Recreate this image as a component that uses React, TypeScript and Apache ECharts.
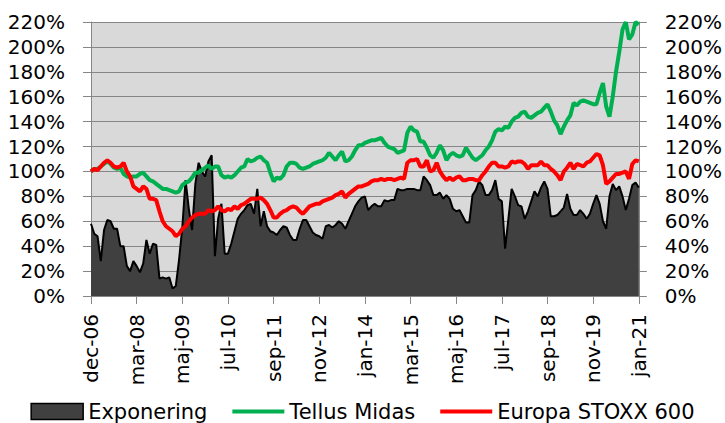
import React, { useEffect, useRef } from "react";
import * as echarts from "echarts";

const MONTHS = ["jan", "feb", "mar", "apr", "maj", "jun", "jul", "aug", "sep", "okt", "nov", "dec"];

// Monthly observations from dec-06 to jan-21 (jan-07 missing in the source series)
const buildCategories = (): string[] => {
  const out: string[] = ["dec-06"];
  let y = 2007;
  let m = 1; // feb-07
  while (true) {
    const label = MONTHS[m] + "-" + String(y % 100).padStart(2, "0");
    out.push(label);
    if (label === "jan-21") break;
    m++;
    if (m > 11) { m = 0; y++; }
  }
  return out;
};
const categories = buildCategories();

const exponering = [
  58, 50, 48, 28, 53, 61, 60, 54, 54, 40, 40, 24, 20, 28, 24, 19, 26, 45, 34, 42,
  41, 14, 15, 14, 15, 6, 8, 29, 55, 93, 70, 53, 90, 107, 100, 96, 108, 113, 32, 62,
  74, 34, 34, 42, 52, 62, 66, 69, 73, 74, 66, 86, 56, 68, 56, 52, 51, 49, 53, 56,
  55, 49, 45, 45, 54, 61, 61, 56, 51, 49, 48, 46, 56, 57, 55, 57, 60, 58, 54, 60,
  66, 72, 76, 79, 80, 69, 72, 74, 72, 72, 77, 76, 77, 77, 86, 85, 85, 86, 86, 86,
  85, 85, 96, 93, 89, 81, 81, 83, 78, 81, 78, 70, 68, 69, 64, 59, 59, 81, 85, 92,
  89, 81, 81, 85, 93, 78, 76, 38, 62, 86, 80, 73, 72, 62, 68, 76, 84, 80, 87, 92,
  86, 64, 64, 65, 68, 71, 82, 70, 65, 65, 69, 66, 62, 66, 74, 81, 74, 60, 54, 80,
  90, 85, 88, 80, 69, 78, 89, 91, 87,
];

const tellusMidas = [
  100, 102, 102, 104, 106, 108, 106, 103, 102, 103, 98, 96, 95, 96, 96, 98, 99, 96, 93, 92,
  90, 88, 86, 86, 85, 84, 83, 84, 89, 91, 92, 95, 99, 99, 101, 103, 105, 102, 104, 104,
  97, 95, 96, 95, 97, 100, 103, 104, 110, 108, 109, 111, 112, 109, 107, 99, 92, 95, 94, 97,
  104, 107, 107, 106, 103, 102, 103, 104, 106, 107, 108, 109, 111, 115, 112, 109, 113, 116, 108, 109,
  112, 117, 121, 121, 123, 124, 125, 125, 126, 127, 123, 120, 119, 118, 115, 116, 117, 131, 136, 133,
  132, 124, 124, 119, 113, 111, 115, 121, 117, 109, 113, 115, 113, 112, 113, 119, 115, 111, 109, 111,
  113, 117, 120, 125, 132, 134, 133, 136, 135, 140, 143, 144, 147, 148, 144, 143, 145, 147, 148, 151,
  154, 148, 141, 137, 130, 136, 141, 145, 155, 153, 156, 157, 156, 155, 154, 154, 163, 171, 152, 144,
  160, 180, 196, 214, 220, 206, 210, 220, 218,
];

const europaStoxx600 = [
  100, 102, 101, 104, 107, 109, 107, 104, 103, 104, 107, 100, 96, 88, 86, 84, 88, 86, 78, 78,
  77, 68, 60, 56, 54, 52, 48, 50, 54, 56, 60, 63, 65, 66, 66, 66, 69, 68, 69, 72,
  69, 68, 70, 69, 72, 70, 73, 74, 76, 78, 78, 78, 79, 77, 74, 69, 63, 63, 66, 68,
  69, 71, 72, 71, 68, 66, 69, 72, 73, 74, 74, 76, 77, 78, 79, 81, 82, 84, 79, 82,
  84, 86, 88, 88, 89, 90, 92, 93, 93, 94, 93, 94, 94, 93, 94, 95, 94, 107, 109, 109,
  110, 104, 104, 109, 100, 101, 107, 100, 96, 93, 95, 93, 95, 96, 93, 93, 94, 94, 93, 93,
  97, 100, 104, 107, 107, 104, 104, 103, 104, 108, 107, 108, 108, 106, 102, 105, 105, 105, 108, 105,
  105, 102, 100, 97, 93, 100, 103, 107, 102, 106, 105, 104, 107, 108, 111, 114, 113, 105, 90, 92,
  95, 98, 98, 99, 100, 94, 106, 109, 108,
];

const FONT = "DejaVu Sans";
const AXIS_GREY = "#868686";

export default function App() {
  const ref = useRef<HTMLDivElement>(null);

  useEffect(() => {
    document.body.style.margin = "0";
    if (!ref.current) return;
    const chart = echarts.init(ref.current, null, { renderer: "svg" });
    const yAxisBase = {
      type: "value",
      min: 0,
      max: 220,
      interval: 20,
      axisLine: { show: true, lineStyle: { color: AXIS_GREY, width: 1 } },
      axisTick: { show: true, length: 8, lineStyle: { color: AXIS_GREY, width: 1 } },
      axisLabel: {
        formatter: "{value}%",
        fontFamily: FONT,
        fontSize: 20,
        color: "#000",
        margin: 26,
      },
    };
    chart.setOption({
      animation: false,
      backgroundColor: "#ffffff",
      grid: {
        left: 91,
        right: 85,
        top: 22,
        bottom: 127,
        show: true,
        backgroundColor: "#d9d9d9",
        borderWidth: 0,
      },
      legend: {
        bottom: 1,
        left: "center",
        itemWidth: 52,
        itemHeight: 16,
        itemGap: 25,
        padding: 0,
        symbolKeepAspect: true,
        textStyle: { fontFamily: FONT, fontSize: 21, color: "#000" },
        data: [
          {
            name: "Exponering",
            icon: "rect",
            itemStyle: { color: "#404040", borderColor: "#000", borderWidth: 1.5 },
          },
          { name: "Tellus Midas", icon: "path://M0,0H52V4H0Z", itemStyle: { color: "#00b050" } },
          { name: "Europa STOXX 600", icon: "path://M0,0H52V4H0Z", itemStyle: { color: "#ff0000" } },
        ],
      },
      xAxis: {
        type: "category",
        data: categories,
        boundaryGap: false,
        axisLine: { show: true, lineStyle: { color: AXIS_GREY, width: 1 } },
        axisTick: { show: true, interval: 13, length: 8, lineStyle: { color: AXIS_GREY, width: 1 } },
        axisLabel: {
          interval: 13,
          rotate: 90,
          fontFamily: FONT,
          fontSize: 20,
          color: "#000",
          margin: 18,
        },
        splitLine: { show: false },
      },
      yAxis: [
        {
          ...yAxisBase,
          position: "left",
          splitLine: { show: true, lineStyle: { color: AXIS_GREY, width: 1 } },
        },
        {
          ...yAxisBase,
          position: "right",
          splitLine: { show: false },
        },
      ],
      series: [
        {
          name: "Exponering",
          type: "line",
          data: exponering,
          symbol: "none",
          itemStyle: { color: "#404040" },
          lineStyle: { color: "#000", width: 2 },
          areaStyle: { color: "#404040", opacity: 1 },
          z: 1,
        },
        {
          name: "Tellus Midas",
          type: "line",
          data: tellusMidas,
          symbol: "none",
          itemStyle: { color: "#00b050" },
          lineStyle: { color: "#00b050", width: 4 },
          z: 2,
        },
        {
          name: "Europa STOXX 600",
          type: "line",
          data: europaStoxx600,
          symbol: "none",
          itemStyle: { color: "#ff0000" },
          lineStyle: { color: "#ff0000", width: 4 },
          z: 3,
        },
      ],
    });
    return () => chart.dispose();
  }, []);

  return <div ref={ref} style={{ width: 725, height: 423 }} />;
}
